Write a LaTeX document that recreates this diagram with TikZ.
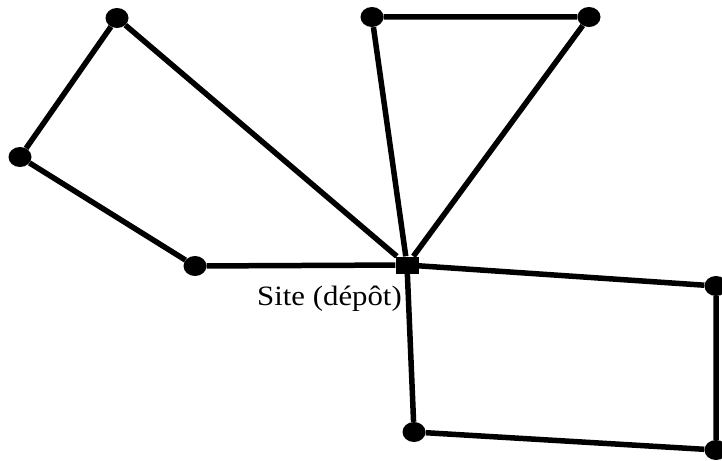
\documentclass[tikz,border=0pt]{standalone}
\usepackage{fontspec}
\setmainfont{Liberation Serif}
\newfontfamily\labelfont[FakeStretch=1.1]{Liberation Serif}
\usetikzlibrary{shapes.geometric}
\tikzset{
  stop/.style={ellipse,fill=black,minimum width=23pt,minimum height=20pt,inner sep=0pt},
  depot node/.style={rectangle,fill=black,minimum width=23pt,minimum height=17pt,inner sep=0pt},
  route/.style={line width=5.5pt,line join=round},
}

\begin{document}
\begin{tikzpicture}[x=1pt,y=-1pt]
  \useasboundingbox (0,0) rectangle (722,460);
  \node[depot node] (depot) at (407,265) {};
  \node[anchor=east,inner sep=0pt,font=\labelfont\fontsize{28}{32}\selectfont] (lbl) at (402,299) {Site (dépôt)};
  % customers
  \foreach \n/\x/\y in {a/117/18,b/20/157,c/195/266,d/372/17,e/589/17,f/716/286,g/716/450,h/414/432}{
    \node[stop] (\n) at (\x,\y) {};
  }
  % tours
  \draw[route] (depot) -- (c) -- (b) -- (a) -- (depot);
  \draw[route] (depot) -- (d) -- (e) -- (depot);
  \draw[route] (depot) -- (f) -- (g) -- (h) -- (depot);
\end{tikzpicture}
\end{document}
